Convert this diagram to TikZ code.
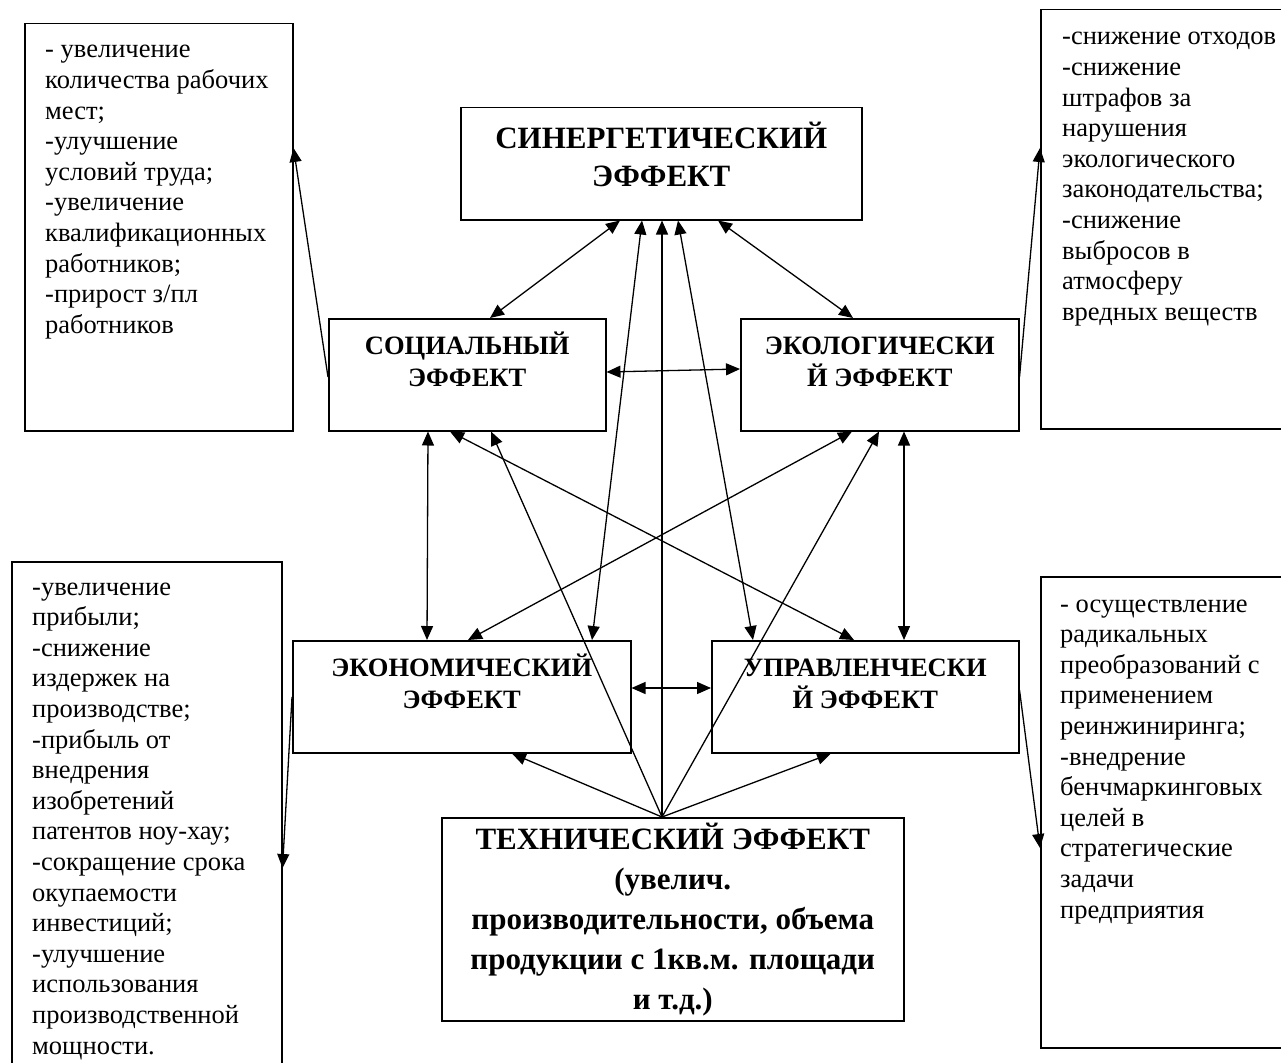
\documentclass[tikz,border=0pt]{standalone}
\usepackage{fontspec}
\setmainfont{Liberation Serif}
\usetikzlibrary{arrows.meta}

\tikzset{
  frame/.style={draw, line width=1.5pt, inner sep=0pt, anchor=north west},
  tip/.tip={Triangle[length=14pt,width=12pt]},
  link/.style={line width=1.3pt, tip-tip},
  feed/.style={line width=1.3pt, -tip},
  title/.style={inner sep=0pt, anchor=base, font=\bfseries\fontsize{26.5}{32}\selectfont},
  head/.style={inner sep=0pt, anchor=base, font=\bfseries\fontsize{31}{38}\selectfont},
  headtall/.style={inner sep=0pt, anchor=base, font=\bfseries\fontsize{31}{40}\selectfont},
  listtext/.style={inner sep=0pt, anchor=base west, font=\fontsize{26.5}{30.6}\selectfont},
}

\begin{document}
\begin{tikzpicture}[x=1pt,y=-1pt]
\useasboundingbox (0,0) rectangle (1281,1062);
\clip (0,0) rectangle (1281,1062);

% frames
\node[frame, minimum width=401pt, minimum height=112pt] (syn) at (460,107) {};
\node[frame, minimum width=277pt, minimum height=112pt] (soc) at (328,318) {};
\node[frame, minimum width=278pt, minimum height=112pt] (eco) at (740,318) {};
\node[frame, minimum width=338pt, minimum height=112pt] (econ) at (292,640) {};
\node[frame, minimum width=307pt, minimum height=112pt] (mgmt) at (711,640) {};
\node[frame, minimum width=462pt, minimum height=203pt] (tech) at (441,817) {};
\node[frame, minimum width=268pt, minimum height=407pt] (lt) at (24,23) {};
\node[frame, minimum width=260pt, minimum height=419pt] (rt) at (1040,9) {};
\node[frame, minimum width=270pt, minimum height=520pt] (lb) at (11,561) {};
\node[frame, minimum width=260pt, minimum height=471pt] (rb) at (1040,576) {};

% titles
\node[head] (synT) at ([yshift=-41pt]syn.north)
  {\parbox[t]{400pt}{\centering СИНЕРГЕТИЧЕСКИЙ\\ЭФФЕКТ}};
\node[title] (socT) at ([yshift=-36pt]soc.north)
  {\parbox[t]{276pt}{\centering СОЦИАЛЬНЫЙ\\ЭФФЕКТ}};
\node[title] (ecoT) at ([yshift=-36pt]eco.north)
  {\parbox[t]{276pt}{\centering ЭКОЛОГИЧЕСКИ\\Й ЭФФЕКТ}};
\node[title] (econT) at ([yshift=-36pt]econ.north)
  {\parbox[t]{336pt}{\centering ЭКОНОМИЧЕСКИЙ\\ЭФФЕКТ}};
\node[title] (mgmtT) at ([yshift=-36pt]mgmt.north)
  {\parbox[t]{306pt}{\centering УПРАВЛЕНЧЕСКИ\\Й ЭФФЕКТ}};
\node[headtall] (techT) at ([yshift=-32pt]tech.north)
  {\parbox[t]{460pt}{\centering ТЕХНИЧЕСКИЙ ЭФФЕКТ\\(увелич.\\производительности, объема\\продукции с 1кв.м. площади\\и т.д.)}};

% lists
\node[listtext] (ltT) at ([xshift=21pt,yshift=-35pt]lt.north west)
  {\parbox[t]{250pt}{\raggedright - увеличение\\количества рабочих\\мест;\\-улучшение\\условий труда;\\-увеличение\\квалификационных\\работников;\\-прирост з/пл\\работников}};
\node[listtext] (rtT) at ([xshift=22pt,yshift=-36pt]rt.north west)
  {\parbox[t]{250pt}{\raggedright -снижение отходов\\-снижение\\штрафов за\\нарушения\\экологического\\законодательства;\\-снижение\\выбросов в\\атмосферу\\вредных веществ}};
\node[listtext] (lbT) at ([xshift=21pt,yshift=-34pt]lb.north west)
  {\parbox[t]{250pt}{\raggedright -увеличение\\прибыли;\\-снижение\\издержек на\\производстве;\\-прибыль от\\внедрения\\изобретений\\патентов ноу-хау;\\-сокращение срока\\окупаемости\\инвестиций;\\-улучшение\\использования\\производственной\\мощности.}};
\node[listtext] (rbT) at ([xshift=20pt,yshift=-36pt]rb.north west)
  {\parbox[t]{250pt}{\raggedright - осуществление\\радикальных\\преобразований с\\применением\\реинжиниринга;\\-внедрение\\бенчмаркинговых\\целей в\\стратегические\\задачи\\предприятия}};

% mutual links between the effects
\draw[link] ([xshift=160pt]syn.south west) -- ([xshift=162pt]soc.north west);
\draw[link] ([xshift=258pt]syn.south west) -- ([xshift=113pt]eco.north west);
\draw[link] ([yshift=-54pt]soc.north east) -- ([yshift=-51pt]eco.north west);
\draw[link] ([yshift=-48pt]econ.north east) -- ([yshift=-48pt]mgmt.north west);
\draw[link] ([xshift=100pt]soc.south west) -- ([xshift=135pt]econ.north west);
\draw[link] ([xshift=164pt]eco.south west) -- ([xshift=193pt]mgmt.north west);
\draw[link] ([xshift=122pt]soc.south west) -- ([xshift=143pt]mgmt.north west);
\draw[link] ([xshift=112pt]eco.south west) -- ([xshift=176pt]econ.north west);
\draw[link] ([xshift=182pt]syn.south west) -- ([xshift=300pt]econ.north west);
\draw[link] ([xshift=218pt]syn.south west) -- ([xshift=42pt]mgmt.north west);

% technical effect feeds everything
\coordinate (hub) at ([xshift=221pt]tech.north west);
\draw[feed] (hub) -- ([xshift=202pt]syn.south west);
\draw[feed] (hub) -- ([xshift=163pt]soc.south west);
\draw[feed] (hub) -- ([xshift=139pt]eco.south west);
\draw[feed] (hub) -- ([xshift=220pt]econ.south west);
\draw[feed] (hub) -- ([xshift=120pt]mgmt.south west);

% effects to their lists
\draw[feed] ([yshift=-59pt]soc.north west) -- ([yshift=-125pt]lt.north east);
\draw[feed] ([yshift=-59pt]eco.north east) -- ([yshift=-139pt]rt.north west);
\draw[feed] ([yshift=-57pt]econ.north west) -- ([yshift=-307pt]lb.north east);
\draw[feed] ([yshift=-50pt]mgmt.north east) -- ([yshift=-272pt]rb.north west);
\end{tikzpicture}
\end{document}
